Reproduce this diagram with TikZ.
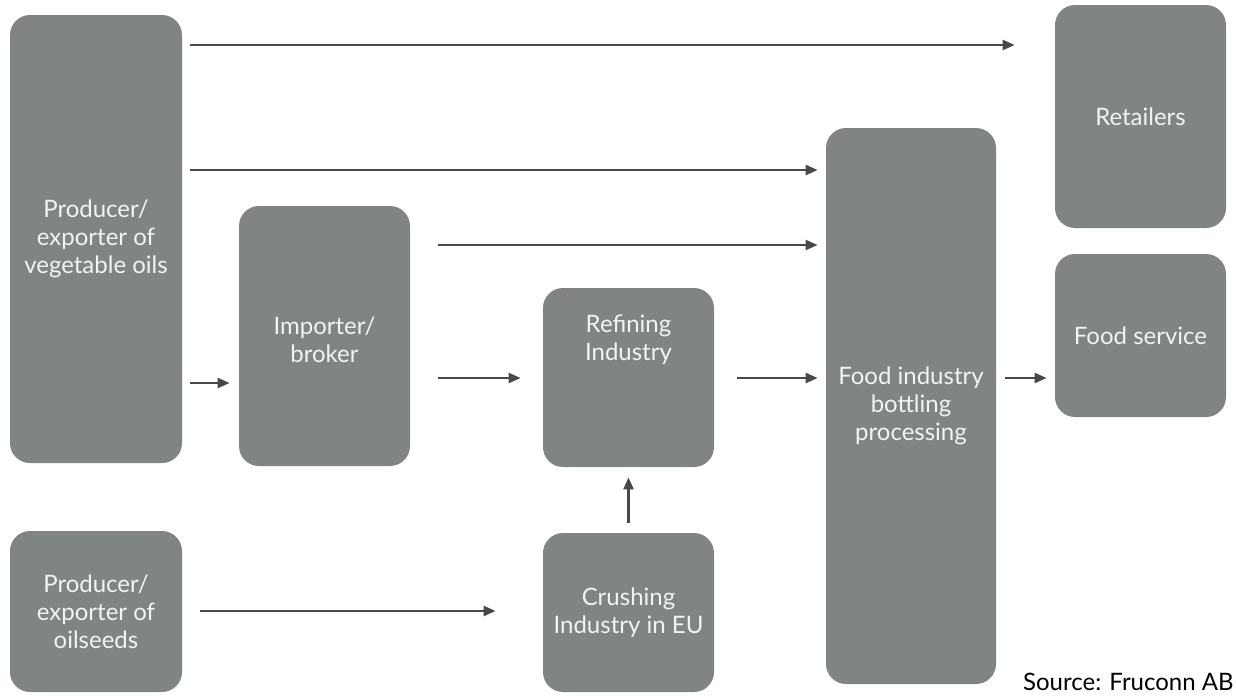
\documentclass[tikz,border=0pt]{standalone}
\usepackage{fontspec}
\setmainfont{Lato}
\usetikzlibrary{arrows.meta}
\definecolor{boxgray}{RGB}{128,133,131}
\definecolor{arrowgray}{RGB}{72,72,72}
\definecolor{textwhite}{RGB}{242,244,243}

\begin{document}
\begin{tikzpicture}[x=0.5pt,y=-0.5pt]
			\tikzset{chainbox/.style={fill=boxgray,draw=none,rounded corners=10pt,inner sep=0pt}}
			\tikzset{boxtext/.style={text=textwhite,font=\fontsize{12}{14}\selectfont,align=center}}
			\tikzset{flow/.style={draw=arrowgray,line width=1.2pt,-{Triangle[length=6pt,width=5pt]}}}
			\useasboundingbox (0,0) rectangle (1236,698);
			\clip (0,0) rectangle (1236,698);
			% boxes
			\node[chainbox,minimum width=86pt,minimum height=224pt] (vegoil) at (96,239) {};
			\node[boxtext] (vegoil-t) at (vegoil.center) {Producer/\\exporter of\\vegetable oils};
			\node[chainbox,minimum width=86pt,minimum height=80.5pt] (oilseed) at (96,611.5) {};
			\node[boxtext] (oilseed-t) at (oilseed.center) {Producer/\\exporter of\\oilseeds};
			\node[chainbox,minimum width=85.5pt,minimum height=130pt] (importer) at (324.5,336) {};
			\node[boxtext] (importer-t) at (324.5,340) {Importer/\\broker};
			\node[chainbox,minimum width=85.5pt,minimum height=89.5pt] (refining) at (628.5,377.5) {};
			\node[boxtext] (refining-t) at (628.5,340) {Refining\\Industry};
			\node[chainbox,minimum width=85.5pt,minimum height=79.5pt] (crushing) at (628.5,612.5) {};
			\node[boxtext] (crushing-t) at (crushing.center) {Crushing\\Industry in EU};
			\node[chainbox,minimum width=85pt,minimum height=278pt] (foodind) at (911,406) {};
			\node[boxtext] (foodind-t) at (foodind.center) {Food industry\\bottling\\processing};
			\node[chainbox,minimum width=85.5pt,minimum height=111.5pt] (retail) at (1140.5,116.5) {};
			\node[boxtext] (retail-t) at (retail.center) {Retailers};
			\node[chainbox,minimum width=85.5pt,minimum height=81.5pt] (foodserv) at (1140.5,335.5) {};
			\node[boxtext] (foodserv-t) at (foodserv.center) {Food service};
			% flows
			\draw[flow,shorten <=4pt,shorten >=20pt] (vegoil.east |- 0,45) -- (retail.west |- 0,45);
			\draw[flow,shorten <=4pt,shorten >=4pt] (vegoil.east |- 0,170) -- (foodind.west |- 0,170);
			\draw[flow,shorten <=14pt,shorten >=4pt] (importer.east |- 0,245) -- (foodind.west |- 0,245);
			\draw[flow,shorten <=4pt,shorten >=4.5pt] (vegoil.east |- 0,383) -- (importer.west |- 0,383);
			\draw[flow,shorten <=14pt,shorten >=11pt] (importer.east |- 0,378) -- (refining.west |- 0,378);
			\draw[flow,shorten <=11.5pt,shorten >=4pt] (refining.east |- 0,378) -- (foodind.west |- 0,378);
			\draw[flow,shorten <=4.5pt,shorten >=4pt] (foodind.east |- 0,378) -- (foodserv.west |- 0,378);
			\draw[flow,shorten <=5pt,shorten >=5pt] (crushing.north) -- (refining.south);
			\draw[flow,shorten <=9pt,shorten >=23.5pt] (oilseed.east |- 0,611) -- (crushing.west |- 0,611);
			% source
			\node[anchor=base east,text=black,font=\fontsize{12}{14}\selectfont,inner sep=0pt] (source) at (1234,690) {Source: Fruconn AB};
		\end{tikzpicture}
\end{document}
